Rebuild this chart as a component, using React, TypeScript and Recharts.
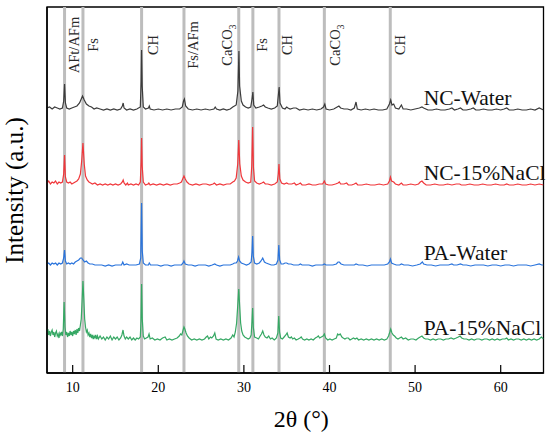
import React from 'react';
import { LineChart, Line, XAxis, YAxis, ReferenceLine, ReferenceDot, ReferenceArea } from 'recharts';

const FONT = "'Liberation Serif', 'Times New Roman', Times, serif";

// ---------- data ----------
const xTicks = [10, 20, 30, 40, 50, 60];
const seriesNames = ['NC-Water', 'NC-15%NaCl', 'PA-Water', 'PA-15%NaCl'];
const seriesColors = ['#3b3b3b', '#f0373b', '#2a74dc', '#36a864'];
// vertical stacking offsets (a.u.)
const offsets = [262, 187, 107, 32];

const phasePositions = [9.05, 11.2, 18.05, 23.0, 29.4, 31.05, 34.1, 39.4, 47.1];
const phaseNames = ['AFt/AFm', 'Fs', 'CH', 'Fs/AFm', 'CaCO3', 'Fs', 'CH', 'CaCO3', 'CH'];

// [2θ, intensity above own baseline]
const ncWater: [number, number][] = [
  [7,3],[7.3,4],[7.6,2],[7.9,4],[8.2,3],[8.5,2],[8.8,3],[8.95,10],[9.05,27],[9.15,8],[9.3,3],[9.6,2],[9.9,3],[10.2,4],[10.5,5],[10.8,8],[11.0,12],[11.15,15],[11.35,11],[11.6,7],[11.9,5],[12.2,4],[12.5,2],[12.8,3],[13.2,2],[13.6,1],[14.0,2],[14.4,1],[14.8,2],[15.2,1],[15.6,2],[15.8,5],[15.9,8],[16.0,3],[16.3,1],[16.7,2],[17.1,1],[17.5,2],[17.9,4],[18.0,30],[18.05,61],[18.12,25],[18.25,4],[18.5,2],[18.85,3],[18.95,5],[19.05,2],[19.5,1],[20,2],[20.5,1],[21,2],[21.5,1],[22,2],[22.5,2],[22.8,4],[22.95,10],[23.05,12],[23.2,5],[23.5,2],[24,1],[24.5,2],[25,1],[25.5,2],[26,1],[26.5,2],[26.65,4],[26.8,2],[27.2,1],[27.6,2],[28,1],[28.4,2],[28.7,4],[28.9,5],[29.1,6],[29.3,20],[29.42,60],[29.5,25],[29.7,10],[29.9,6],[30.2,4],[30.5,3],[30.8,4],[30.95,12],[31.05,19],[31.15,6],[31.4,3],[31.8,4],[32.1,5],[32.3,6],[32.5,4],[32.8,3],[33.2,2],[33.6,3],[33.9,5],[34.05,18],[34.12,24],[34.22,8],[34.5,3],[34.8,2],[35.0,4],[35.15,3],[35.4,2],[35.8,3],[36.1,3],[36.5,1],[37,2],[37.5,1],[38,2],[38.5,1],[39,2],[39.3,4],[39.45,7],[39.6,2],[40,1],[40.5,2],[40.9,4],[41.1,5],[41.3,3],[41.7,2],[42.1,2],[42.5,1],[42.9,3],[43.1,9],[43.25,2],[43.7,1],[44.2,2],[44.7,1],[45.2,2],[45.7,1],[46.2,1],[46.7,2],[47.0,7],[47.15,11],[47.3,6],[47.5,7],[47.7,3],[48.1,2],[48.4,6],[48.6,2],[49,2],[49.5,1],[50,2],[50.5,3],[50.8,4],[51,3],[51.5,1],[52,1],[52.5,2],[53,1],[53.5,1],[54,2],[54.3,3],[54.6,1],[55,2],[55.3,3],[55.6,1],[56,1],[56.5,2],[56.8,3],[57.1,1],[57.5,1],[58,2],[58.5,1],[59,1],[59.5,2],[60,1],[60.4,2],[60.7,3],[61,1],[61.5,1],[62,2],[62.5,1],[63,1],[63.5,2],[64,1],[64.5,3],[65,1],
];

const ncNaCl: [number, number][] = [
  [7,3],[7.2,5],[7.4,2],[7.6,4],[7.8,3],[8.0,5],[8.2,2],[8.4,4],[8.6,3],[8.8,4],[8.95,12],[9.05,31],[9.15,9],[9.3,4],[9.5,3],[9.7,4],[9.9,2],[10.1,3],[10.3,4],[10.5,5],[10.7,7],[10.9,12],[11.05,25],[11.2,43],[11.35,22],[11.5,10],[11.7,6],[11.9,4],[12.1,3],[12.3,2],[12.6,3],[12.9,1],[13.2,2],[13.5,1],[13.8,2],[14.1,1],[14.4,2],[14.7,1],[15.0,2],[15.3,1],[15.6,2],[15.8,4],[15.9,6],[16.0,3],[16.2,1],[16.4,3],[16.5,1],[16.8,2],[17.1,1],[17.4,2],[17.7,1],[17.9,4],[18.0,25],[18.05,48],[18.12,20],[18.25,4],[18.5,1],[18.8,2],[18.9,3],[19.05,1],[19.4,2],[19.8,1],[20.2,2],[20.6,1],[21.0,2],[21.4,1],[21.8,2],[22.2,2],[22.5,3],[22.7,4],[22.85,7],[23.0,10],[23.15,7],[23.35,4],[23.6,2],[24,1],[24.4,2],[24.8,1],[25.2,2],[25.6,2],[26,1],[26.4,2],[26.55,3],[26.8,1],[27.2,2],[27.6,1],[28,2],[28.4,2],[28.7,4],[28.9,5],[29.1,8],[29.28,22],[29.4,46],[29.52,22],[29.7,10],[29.9,6],[30.2,4],[30.5,3],[30.8,4],[30.92,20],[31.02,59],[31.12,18],[31.25,5],[31.5,3],[31.8,2],[32.1,3],[32.3,4],[32.5,2],[32.8,2],[33.2,1],[33.6,2],[33.9,4],[34.02,12],[34.1,22],[34.2,7],[34.4,3],[34.7,2],[35.0,3],[35.2,2],[35.6,2],[35.9,3],[36.1,1],[36.4,2],[36.6,3],[36.8,1],[37.2,1],[37.6,2],[38,1],[38.4,1],[38.8,2],[39.2,2],[39.4,5],[39.55,2],[39.9,1],[40.3,1],[40.7,2],[41.0,3],[41.15,4],[41.3,2],[41.7,2],[42.0,3],[42.2,1],[42.6,1],[42.9,2],[43.1,3],[43.3,1],[43.8,1],[44.3,2],[44.8,1],[45.3,1],[45.8,2],[46.3,1],[46.8,2],[47.0,5],[47.12,9],[47.25,5],[47.5,4],[47.7,2],[48.1,1],[48.4,3],[48.6,1],[49.0,1],[49.5,2],[50.0,1],[50.4,2],[50.6,4],[50.8,5],[51.0,3],[51.3,1],[51.8,1],[52.3,2],[52.8,1],[53.3,1],[53.8,2],[54.3,1],[54.8,2],[55.2,2],[55.4,1],[55.9,1],[56.4,2],[56.9,1],[57.4,1],[57.9,2],[58.4,1],[58.9,1],[59.4,2],[59.9,1],[60.4,1],[60.7,2],[61.0,1],[61.5,1],[62.0,2],[62.5,1],[63,1],[63.5,2],[64,1],[64.5,2],[65,1],
];

const paWater: [number, number][] = [
  [7,2],[7.2,3],[7.4,1],[7.6,3],[7.8,2],[8.0,3],[8.2,1],[8.4,3],[8.6,2],[8.8,3],[8.95,8],[9.05,16],[9.15,5],[9.3,2],[9.5,3],[9.7,2],[9.9,3],[10.1,2],[10.3,4],[10.5,5],[10.7,6],[10.9,8],[11.05,8],[11.2,6],[11.4,4],[11.6,5],[11.8,3],[12.0,2],[12.3,2],[12.6,1],[13.0,1],[13.4,1],[13.8,0],[14.2,1],[14.6,0],[15.0,1],[15.4,1],[15.7,1],[15.85,4],[16.0,1],[16.3,2],[16.6,1],[17.0,1],[17.4,1],[17.8,2],[17.95,8],[18.05,63],[18.13,15],[18.25,3],[18.5,1],[18.85,1],[18.95,3],[19.1,1],[19.5,1],[19.9,1],[20.3,0],[20.7,1],[21.1,1],[21.5,0],[21.9,1],[22.3,1],[22.7,1],[22.9,3],[23.0,5],[23.15,2],[23.5,1],[23.9,1],[24.3,0],[24.7,1],[25.1,1],[25.5,1],[25.9,0],[26.3,1],[26.6,2],[26.8,1],[27.2,0],[27.6,1],[28.0,1],[28.4,1],[28.7,2],[28.9,3],[29.1,3],[29.25,5],[29.38,9],[29.5,5],[29.7,3],[30.0,2],[30.3,1],[30.6,2],[30.85,4],[30.95,14],[31.02,30],[31.1,10],[31.25,3],[31.5,2],[31.8,3],[32.0,5],[32.2,8],[32.4,4],[32.6,3],[32.9,2],[33.2,1],[33.5,1],[33.8,2],[33.98,6],[34.08,21],[34.18,6],[34.35,2],[34.6,2],[34.8,3],[35.0,3],[35.2,2],[35.5,2],[35.8,1],[36.1,1],[36.4,1],[36.6,2],[36.8,1],[37.2,1],[37.6,1],[38.0,0],[38.4,1],[38.8,1],[39.2,1],[39.4,2],[39.6,1],[40.0,1],[40.4,1],[40.8,2],[41.0,4],[41.15,4],[41.35,2],[41.7,1],[42.1,1],[42.5,1],[42.9,1],[43.1,2],[43.4,1],[43.9,1],[44.4,0],[44.9,1],[45.4,1],[45.9,1],[46.4,1],[46.8,2],[47.0,4],[47.12,7],[47.25,3],[47.5,2],[47.8,1],[48.2,1],[48.4,2],[48.7,1],[49.2,1],[49.7,0],[50.2,1],[50.6,2],[50.85,4],[51.0,2],[51.4,1],[51.9,1],[52.4,0],[52.9,1],[53.4,1],[53.9,1],[54.3,2],[54.5,1],[54.9,1],[55.3,2],[55.6,1],[56.0,1],[56.5,0],[57.0,1],[57.5,1],[58.0,1],[58.5,0],[59.0,1],[59.5,1],[60.0,0],[60.5,1],[61.0,1],[61.5,0],[62.0,1],[62.5,1],[63.0,1],[63.5,0],[64.0,1],[64.5,2],[64.8,1],[65,1],
];

const paNaCl: [number, number][] = [
  [7,8],[7.1,12],[7.2,6],[7.3,10],[7.4,5],[7.5,9],[7.6,11],[7.7,6],[7.8,9],[7.9,4],[8.0,8],[8.1,10],[8.2,5],[8.3,7],[8.4,3],[8.5,8],[8.6,6],[8.7,9],[8.8,5],[8.9,12],[9.0,39],[9.1,14],[9.2,6],[9.3,9],[9.4,4],[9.5,8],[9.6,5],[9.7,10],[9.8,6],[9.9,9],[10.0,5],[10.1,10],[10.2,7],[10.3,11],[10.4,6],[10.5,12],[10.6,8],[10.7,13],[10.8,10],[10.9,16],[11.0,22],[11.1,40],[11.2,60],[11.3,42],[11.4,22],[11.5,14],[11.6,9],[11.7,11],[11.8,6],[11.9,8],[12.0,4],[12.1,7],[12.2,3],[12.3,6],[12.4,2],[12.5,5],[12.6,3],[12.7,6],[12.8,2],[12.9,5],[13.0,2],[13.2,5],[13.4,2],[13.6,4],[13.8,1],[14.0,4],[14.2,2],[14.4,5],[14.6,1],[14.8,4],[15.0,2],[15.2,4],[15.4,1],[15.6,3],[15.75,6],[15.88,11],[16.0,5],[16.15,2],[16.3,4],[16.5,2],[16.7,4],[16.9,1],[17.1,3],[17.3,1],[17.5,3],[17.7,2],[17.9,4],[17.98,20],[18.05,57],[18.13,22],[18.25,5],[18.4,2],[18.6,3],[18.8,4],[18.92,7],[19.05,2],[19.3,3],[19.6,1],[19.9,2],[20.2,1],[20.5,3],[20.8,4],[21.0,1],[21.3,2],[21.6,1],[21.9,2],[22.2,3],[22.45,5],[22.6,7],[22.75,6],[22.9,11],[23.0,14],[23.1,12],[23.25,8],[23.4,5],[23.6,3],[23.9,1],[24.2,2],[24.5,1],[24.8,2],[25.1,1],[25.4,2],[25.6,4],[25.75,5],[25.9,2],[26.1,4],[26.25,3],[26.45,5],[26.6,8],[26.75,2],[27.0,1],[27.3,2],[27.6,1],[27.9,2],[28.2,1],[28.5,3],[28.7,6],[28.85,4],[29.0,9],[29.15,18],[29.3,38],[29.4,52],[29.5,36],[29.62,18],[29.75,10],[29.9,6],[30.1,4],[30.3,3],[30.5,2],[30.7,3],[30.85,6],[30.95,20],[31.02,33],[31.1,14],[31.25,4],[31.5,3],[31.7,2],[31.9,5],[32.05,7],[32.2,10],[32.35,6],[32.5,4],[32.7,3],[32.9,5],[33.1,2],[33.3,3],[33.55,1],[33.8,3],[33.97,8],[34.07,25],[34.17,9],[34.3,3],[34.5,2],[34.7,4],[34.9,6],[35.05,8],[35.2,4],[35.4,3],[35.55,4],[35.7,2],[35.9,3],[36.1,1],[36.35,2],[36.55,3],[36.7,4],[36.85,2],[37.1,1],[37.35,2],[37.6,1],[37.85,2],[38.1,1],[38.35,3],[38.55,4],[38.7,5],[38.85,3],[39.05,4],[39.25,5],[39.4,7],[39.55,3],[39.8,1],[40.05,2],[40.3,1],[40.55,2],[40.8,3],[40.95,7],[41.1,6],[41.25,7],[41.45,4],[41.6,3],[41.8,2],[42.0,3],[42.2,3],[42.4,1],[42.6,2],[42.8,3],[43.0,2],[43.2,3],[43.4,1],[43.7,2],[44.0,1],[44.3,2],[44.6,1],[44.9,2],[45.2,1],[45.5,2],[45.8,1],[46.1,2],[46.4,1],[46.7,2],[46.9,5],[47.05,9],[47.15,12],[47.3,8],[47.45,6],[47.6,5],[47.8,3],[48.0,2],[48.2,3],[48.4,4],[48.6,2],[48.9,3],[49.2,1],[49.5,2],[49.8,2],[50.1,1],[50.4,3],[50.6,4],[50.8,5],[51.0,3],[51.2,2],[51.5,2],[51.8,1],[52.1,2],[52.4,1],[52.7,2],[53.0,2],[53.3,1],[53.6,2],[53.9,2],[54.2,3],[54.5,2],[54.8,3],[55.05,4],[55.25,5],[55.45,3],[55.7,2],[56.0,2],[56.3,1],[56.6,2],[56.9,1],[57.2,2],[57.5,2],[57.8,1],[58.1,2],[58.4,2],[58.7,1],[59.0,2],[59.3,1],[59.6,2],[59.9,1],[60.2,2],[60.5,2],[60.7,3],[60.9,1],[61.2,2],[61.5,1],[61.8,2],[62.1,2],[62.4,1],[62.7,2],[63.0,1],[63.3,2],[63.6,1],[63.9,2],[64.2,1],[64.5,2],[64.75,4],[65,2],
];

const seriesValues = [ncWater, ncNaCl, paWater, paNaCl];

// ---------- presentation ----------
const LABEL_SHIFT = [14.5, 15.5, 16, 14.5, -6.5, 14, 13.5, 16, 14.5];
const serifStyle = { fontFamily: FONT };

const renderPhaseText = (name: string) => {
  if (name === 'CaCO3') {
    return [
      <tspan key="a">CaCO</tspan>,
      <tspan key="b" dy={4} fontSize={10}>3</tspan>,
    ];
  }
  return name;
};

const PhaseLabel = (props: any) => {
  const { viewBox, name, shift } = props;
  if (!viewBox) return null;
  const top = Math.min(viewBox.y, viewBox.y + (viewBox.height || 0));
  const x = viewBox.x + shift;
  const y = top + 38;
  return (
    <text
      transform={`translate(${x},${y}) rotate(-90)`}
      textAnchor="middle"
      fontSize={14.5}
      fontFamily={FONT}
      style={serifStyle}
      fill="#2a2a2a"
    >
      {renderPhaseText(name)}
    </text>
  );
};

const SeriesLabel = (props: any) => {
  const { viewBox, name } = props;
  if (!viewBox) return null;
  const x = viewBox.x + (viewBox.width || 0) / 2;
  const y = viewBox.y + (viewBox.height || 0) / 2;
  return (
    <text x={x} y={y} fontSize={21.5} fontFamily={FONT} style={serifStyle} fill="#111" textAnchor="start">
      {name}
    </text>
  );
};

const XLabel = (props: any) => {
  const { viewBox } = props;
  if (!viewBox) return null;
  return (
    <text
      x={viewBox.x + viewBox.width / 2 + 6}
      y={viewBox.y + 54}
      textAnchor="middle"
      fontSize={24}
      fontFamily={FONT}
      style={serifStyle}
      fill="#000"
    >
      2θ (°)
    </text>
  );
};

const YLabel = (props: any) => {
  const { viewBox } = props;
  if (!viewBox) return null;
  const cx = viewBox.x + 23;
  const cy = viewBox.y + viewBox.height / 2 + 0.5;
  return (
    <text
      transform={`translate(${cx},${cy}) rotate(-90)`}
      textAnchor="middle"
      fontSize={25}
      fontFamily={FONT}
      style={serifStyle}
      fill="#000"
    >
      Intensity (a.u.)
    </text>
  );
};

export default function App() {
  const tables = seriesValues.map((pts, i) =>
    pts.map(([x, y]) => ({ x, y: y + offsets[i] }))
  );

  return (
    <div style={{ position: 'absolute', left: 0, top: 0, width: 550, height: 442, background: '#fff', fontFamily: FONT }}>
      <LineChart width={550} height={442} margin={{ top: 7, right: 6.5, left: 0, bottom: 0 }} style={serifStyle}>
        <XAxis
          dataKey="x"
          type="number"
          domain={[7, 65]}
          ticks={xTicks}
          allowDataOverflow
          height={69}
          tickSize={-8}
          tickMargin={17}
          tick={{ fontSize: 14, fill: '#000', fontFamily: FONT, style: serifStyle }}
          axisLine={{ stroke: '#000', strokeWidth: 1.5 }}
          tickLine={{ stroke: '#000', strokeWidth: 1.2 }}
          label={<XLabel />}
        />
        <YAxis
          type="number"
          domain={[0, 366]}
          allowDataOverflow
          width={47}
          tick={false}
          tickLine={false}
          axisLine={{ stroke: '#000', strokeWidth: 1.5 }}
          label={<YLabel />}
        />
        {phasePositions.map((p, i) => (
          <ReferenceLine
            key={`ph-${i}`}
            x={p}
            stroke="#bdbdbd"
            strokeWidth={3}
            label={<PhaseLabel name={phaseNames[i]} shift={LABEL_SHIFT[i]} />}
          />
        ))}
        {tables.map((d, i) => (
          <Line
            key={seriesNames[i]}
            data={d}
            dataKey="y"
            type="linear"
            stroke={seriesColors[i]}
            strokeWidth={1.2}
            dot={false}
            activeDot={false}
            isAnimationActive={false}
          />
        ))}
        {seriesNames.map((n, i) => (
          <ReferenceDot
            key={`lbl-${i}`}
            x={51}
            y={offsets[i] + 6.5}
            r={0}
            fill="none"
            stroke="none"
            label={<SeriesLabel name={n} />}
          />
        ))}
        <ReferenceArea
          x1={7}
          x2={65}
          y1={0}
          y2={366}
          fill="none"
          fillOpacity={0}
          stroke="#000"
          strokeWidth={1.3}
          ifOverflow="visible"
        />
      </LineChart>
    </div>
  );
}
